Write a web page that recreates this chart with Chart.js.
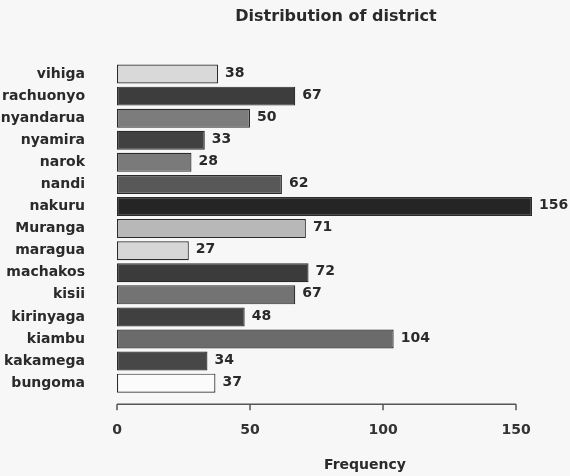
<!DOCTYPE html>
<html>
<head>
<meta charset="utf-8">
<script src="https://cdn.jsdelivr.net/npm/chart.js@4"></script>
<style>
  body { margin: 0; background: #f7f7f7; }
  #wrap { position: relative; width: 570px; height: 476px; }
</style>
</head>
<body>
<div id="wrap"><canvas id="myChart" width="570" height="476"></canvas></div>
<script>
// district names, top to bottom
const districts = ["vihiga", "rachuonyo", "nyandarua", "nyamira", "narok", "nandi", "nakuru",
  "Muranga", "maragua", "machakos", "kisii", "kirinyaga", "kiambu", "kakamega", "bungoma"];
const frequencies = [38, 67, 50, 33, 28, 62, 156, 71, 27, 72, 67, 48, 104, 34, 37];
const barColors = ["#d9d9d9", "#3d3d3d", "#7c7c7c", "#414141", "#7a7a7a", "#585858", "#252525",
  "#b8b8b8", "#d6d6d6", "#3b3b3b", "#737373", "#404040", "#6b6b6b", "#474747", "#fbfbfb"];
const xTicks = [0, 50, 100, 150];

const chartTitle = "Distribution of district";
const xTitle = "Frequency";
const font = "DejaVu Sans";
const textColor = "#2a2a2a";

// value labels at the bar ends, titles and the short axis line (0..150)
const extras = {
  id: "extras",
  afterDatasetsDraw(chart) {
    const ctx = chart.ctx;
    const meta = chart.getDatasetMeta(0);
    ctx.save();
    ctx.fillStyle = textColor;
    ctx.font = "bold 14px '" + font + "'";
    ctx.textAlign = "left";
    ctx.textBaseline = "middle";
    meta.data.forEach((bar, i) => {
      ctx.fillText(String(frequencies[i]), bar.x + 7, bar.y - 1);
    });

    const x = chart.scales.x;
    const yLine = chart.chartArea.bottom + 10;
    ctx.strokeStyle = "#555";
    ctx.lineWidth = 1.5;
    ctx.beginPath();
    ctx.moveTo(x.getPixelForValue(xTicks[0]), yLine);
    ctx.lineTo(x.getPixelForValue(xTicks[xTicks.length - 1]), yLine);
    xTicks.forEach(v => {
      const px = x.getPixelForValue(v);
      ctx.moveTo(px, yLine);
      ctx.lineTo(px, yLine + 6);
    });
    ctx.stroke();

    ctx.textAlign = "center";
    ctx.font = "bold 16px '" + font + "'";
    ctx.fillText(chartTitle, 336, 17);
    ctx.font = "bold 14px '" + font + "'";
    ctx.fillText(xTitle, 365, 465);
    ctx.restore();
  }
};

const ctx = document.getElementById("myChart");
new Chart(ctx, {
  type: "bar",
  data: {
    labels: districts,
    datasets: [{
      data: frequencies,
      backgroundColor: barColors,
      borderColor: "#2b2b2b",
      borderWidth: 1.2,
      borderSkipped: false,
      categoryPercentage: 1,
      barPercentage: 0.86
    }]
  },
  options: {
    indexAxis: "y",
    responsive: false,
    animation: false,
    layout: { padding: { top: 63, bottom: 17, right: 38 } },
    plugins: { legend: { display: false }, tooltip: { enabled: false } },
    scales: {
      x: {
        min: 0,
        max: 156,
        afterBuildTicks: s => { s.ticks = xTicks.map(v => ({ value: v })); },
        grid: { display: false },
        border: { display: false },
        ticks: { padding: 20, maxRotation: 0, autoSkip: false, color: "#333", font: { family: font, size: 14, weight: "bold" } }
      },
      y: {
        afterFit: s => { s.width = 117; },
        grid: { display: false },
        border: { display: false },
        ticks: { padding: 24, autoSkip: false, color: textColor, font: { family: font, size: 14, weight: "bold" } }
      }
    }
  },
  plugins: [extras]
});
</script>
</body>
</html>
